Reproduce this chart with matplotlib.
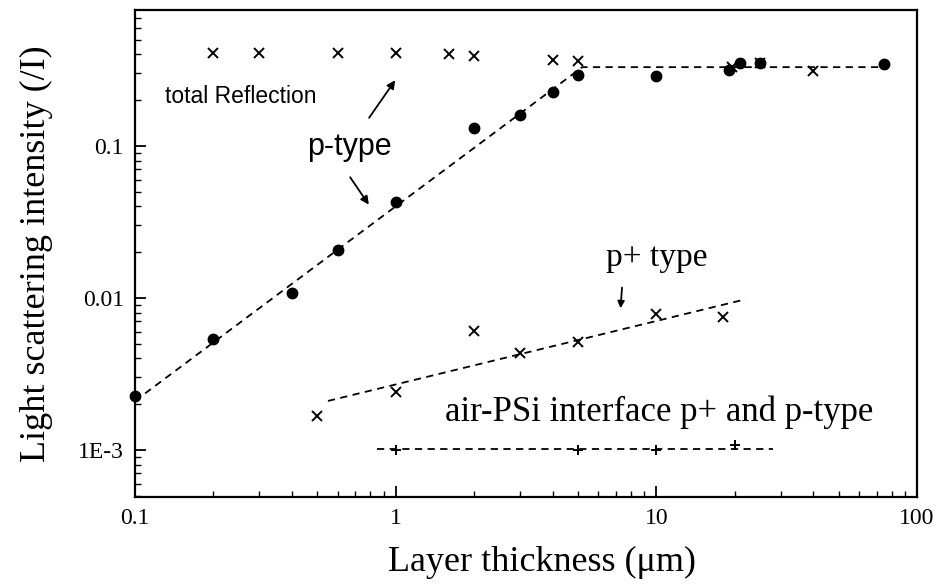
import matplotlib.pyplot as plt
import numpy as np
from matplotlib.ticker import FixedLocator, LogLocator, NullFormatter

# total reflection, crosses
refl_x = [0.2, 0.3, 0.6, 1.0, 1.6, 2.0, 4.0, 5.0, 19.5, 25.0, 40.0]
refl_y = [0.41, 0.41, 0.41, 0.41, 0.40, 0.39, 0.37, 0.36, 0.33, 0.35, 0.31]

# p-type, filled dots
p_x = [0.1, 0.2, 0.4, 0.6, 1.0, 2.0, 3.0, 4.0, 5.0, 10.0, 19.0, 21.0, 25.0, 75.0]
p_y = [0.00226, 0.0054, 0.0108, 0.0207, 0.043, 0.131, 0.16, 0.226, 0.293, 0.29,
       0.315, 0.35, 0.35, 0.346]
p_fit_x = [0.1, 5.2, 78.0]
p_fit_y = [0.0021, 0.33, 0.33]

# p+ type, crosses
pp_x = [0.5, 1.0, 2.0, 3.0, 5.0, 10.0, 18.0]
pp_y = [0.00167, 0.0024, 0.0061, 0.00435, 0.0051, 0.00785, 0.0075]
pp_fit_x = [0.55, 22.0]
pp_fit_y = [0.0021, 0.0098]

# air-PSi interface, plus markers
air_x = [1.0, 5.0, 10.0, 20.0]
air_y = [0.001, 0.001, 0.001, 0.00108]
air_fit_x = [0.85, 28.0]
air_fit_y = [0.00102, 0.00102]

serif = 'Liberation Serif'
sans = 'Liberation Sans'

fig = plt.figure(figsize=(9.4, 5.85), dpi=100)
ax = fig.add_axes([0.1436, 0.1504, 0.8319, 0.8326])

dash = dict(color='black', linestyle=(0, (4, 3)), linewidth=1.3)
ax.plot(p_fit_x, p_fit_y, **dash)
ax.plot(pp_fit_x, pp_fit_y, **dash)
ax.plot(air_fit_x, air_fit_y, **dash)

ax.plot(refl_x, refl_y, 'x', color='black', markersize=7, mew=1.4, clip_on=False)
ax.plot(p_x, p_y, 'o', color='black', markersize=7.5, clip_on=False)
ax.plot(pp_x, pp_y, 'x', color='black', markersize=7, mew=1.4)
ax.plot(air_x, air_y, '+', color='black', markersize=7, mew=1.4)

ax.set_xscale('log')
ax.set_yscale('log')
ax.set_xlim(0.1, 100)
ax.set_ylim(4.9e-4, 0.785)

ax.xaxis.set_major_locator(FixedLocator([0.1, 1, 10, 100]))
ax.set_xticklabels(['0.1', '1', '10', '100'])
ax.yaxis.set_major_locator(FixedLocator([1e-3, 1e-2, 1e-1]))
ax.set_yticklabels(['1E-3', '0.01', '0.1'])
ax.xaxis.set_minor_locator(LogLocator(base=10, subs=np.arange(2, 10)))
ax.yaxis.set_minor_locator(LogLocator(base=10, subs=np.arange(2, 10)))
ax.xaxis.set_minor_formatter(NullFormatter())
ax.yaxis.set_minor_formatter(NullFormatter())

ax.tick_params(which='major', direction='in', length=8, width=1.3,
               labelsize=17, pad=8)
ax.tick_params(which='minor', direction='in', length=4, width=1.0)
for lab in ax.get_xticklabels() + ax.get_yticklabels():
    lab.set_fontfamily(serif)
for s in ax.spines.values():
    s.set_linewidth(1.6)

ax.set_xlabel('Layer thickness (\u03bcm)', fontsize=26, family=serif, labelpad=12)
ax.xaxis.label.set_x(0.52)
ax.set_ylabel('Light scattering intensity (/I)', fontsize=26, family=serif, labelpad=18)

# annotations
ax.text(0.13, 0.21, 'total Reflection', fontsize=16.5, family=sans, va='center')
ax.annotate('', xy=(1.01, 0.28), xytext=(0.78, 0.148),
            arrowprops=dict(arrowstyle='-|>', color='black', lw=1.3, mutation_scale=12))
ax.text(0.456, 0.0985, 'p-type', fontsize=22, family=sans, va='center')
ax.annotate('', xy=(0.80, 0.0397), xytext=(0.66, 0.0644),
            arrowprops=dict(arrowstyle='-|>', color='black', lw=1.3, mutation_scale=12))
ax.text(6.43, 0.0183, 'p+ type', fontsize=24, family=serif, va='center')
ax.annotate('', xy=(7.28, 0.0082), xytext=(7.4, 0.0122),
            arrowprops=dict(arrowstyle='-|>', color='black', lw=1.3, mutation_scale=10))
ax.text(1.54, 0.00178, 'air-PSi interface p+ and p-type', fontsize=25, family=serif, va='center')

fig.savefig('out.png', dpi=100)
